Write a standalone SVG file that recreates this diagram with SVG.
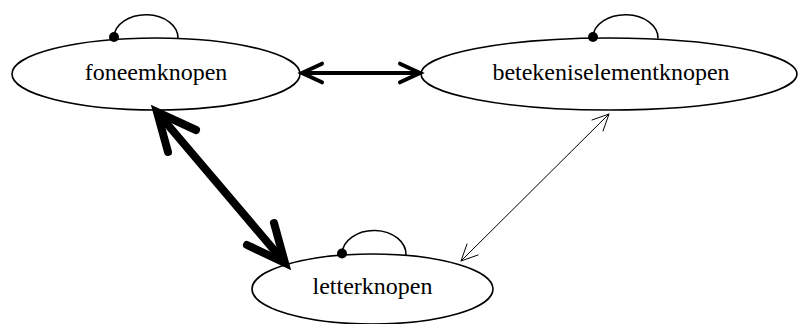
<svg xmlns="http://www.w3.org/2000/svg" width="798" height="324" viewBox="0 0 798 324">
  <style>
    .node ellipse { fill: #ffffff; stroke: #000000; stroke-width: 1.6; }
    .node text { font-family: "Liberation Serif", "Times New Roman", serif; font-size: 24px; fill: #000000; text-anchor: middle; }
    .loop { fill: none; stroke: #000000; stroke-width: 1.6; }
    .dot { fill: #000000; }
    .edge { fill: none; stroke: #000000; stroke-linecap: round; stroke-linejoin: miter; stroke-miterlimit: 10; }
    .heavy { stroke-width: 8; }
    .medium { stroke-width: 4; }
    .light { stroke-width: 1; }
  </style>

  <rect width="798" height="324" fill="#ffffff"/>

  <!-- nodes -->
  <g id="foneemknopen" class="node">
    <ellipse cx="156" cy="74" rx="144" ry="36"/>
    <path class="loop" d="M114,37 A32,23 0 0 1 178,38.5"/>
    <circle class="dot" cx="114" cy="37" r="5"/>
    <text x="156" y="80">foneemknopen</text>
  </g>

  <g id="betekeniselementknopen" class="node">
    <ellipse cx="609" cy="74" rx="188" ry="36"/>
    <path class="loop" d="M593,37 A32.5,23 0 0 1 658,38.5"/>
    <circle class="dot" cx="593" cy="37" r="5"/>
    <text x="611" y="80">betekeniselementknopen</text>
  </g>

  <g id="letterknopen" class="node">
    <ellipse cx="372.5" cy="289" rx="120.5" ry="35"/>
    <path class="loop" d="M342,253.5 A32,24 0 0 1 406,255.5"/>
    <circle class="dot" cx="342" cy="253.5" r="5"/>
    <text x="372.5" y="294">letterknopen</text>
  </g>

  <!-- connectors -->
  <g id="connectors">
    <!-- foneemknopen <-> betekeniselementknopen -->
    <g id="edge-foneem-betekenis">
      <path class="edge medium" d="M305,73 L417,73"/>
      <path class="edge medium" d="M322,63.7 L302,73 L322,82.3"/>
      <path class="edge medium" d="M400,63.7 L420,73 L400,82.3"/>
    </g>
    <!-- foneemknopen <-> letterknopen -->
    <g id="edge-foneem-letter">
      <path class="edge heavy" d="M162,118 L280,257"/>
      <path class="edge heavy" d="M168,152 L157,112 L196,130"/>
      <path class="edge heavy" d="M274,223 L285,263 L247,245"/>
    </g>
    <!-- betekeniselementknopen <-> letterknopen -->
    <g id="edge-betekenis-letter">
      <path class="edge light" d="M609,114 L461,261"/>
      <path class="edge light" d="M592,120 L609,114 L603,131"/>
      <path class="edge light" d="M478,255 L461,261 L467,244"/>
    </g>
  </g>
</svg>
